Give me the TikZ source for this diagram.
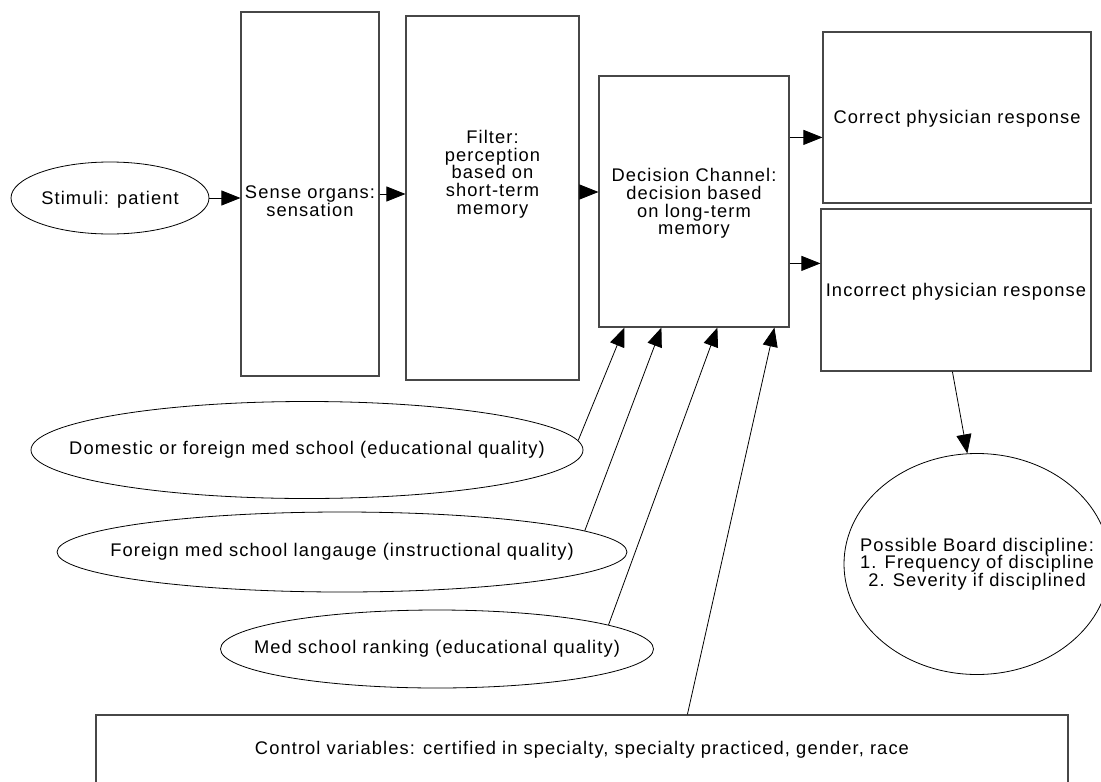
\documentclass[tikz,border=0pt]{standalone}
\usepackage{fontspec}
\setmainfont{Liberation Sans}[LetterSpace=6]
\usetikzlibrary{arrows.meta,shapes.geometric,calc}
\begin{document}
\begin{tikzpicture}[x=1pt,y=-1pt,
  box/.style={draw=black!72, line width=1.2pt, rectangle, inner sep=0pt},
  oval/.style={draw, ellipse, line width=0.8pt, inner sep=0pt},
  txt/.style={align=center, font=\fontsize{18.3}{17.7}\selectfont, inner sep=0pt, text=black},
  arr/.style={line width=0.8pt, -{Triangle[length=19pt,width=15pt]}},
]
\useasboundingbox (0,0) rectangle (1101,782);

% boxes
\node[box, minimum width=138pt, minimum height=364pt] (sense) at (310,194) {};
\node[box, minimum width=173pt, minimum height=364pt] (filter) at (492.5,198) {};
\node[box, minimum width=190pt, minimum height=251pt, label={[txt,yshift=-2pt]center:Decision Channel:\\decision based\\on long-term\\memory}] (dec) at (694,201.5) {};
\node[box, minimum width=268pt, minimum height=171pt, label={[txt,yshift=-1pt]center:Correct physician response}] (correct) at (957,117.5) {};
\node[box, minimum width=270pt, minimum height=162pt, label={[txt,yshift=-2pt]center:Incorrect physician response}] (incorrect) at (956,290) {};
\node[box, minimum width=972pt, minimum height=70pt, label={[txt]center:Control variables: certified in specialty, specialty practiced, gender, race}] (ctrl) at (582,750) {};

\node[txt] (sensetxt) at (310,201.5) {Sense organs:\\sensation};
\node[txt] (filtertxt) at (492.5,174) {Filter:\\perception\\based on\\short-term\\memory};

% ellipses
\node[oval, minimum width=198pt, minimum height=72pt, label={[txt,yshift=-2pt]center:Stimuli: patient}] (stim) at (110,198) {};
\node[oval, minimum width=552pt, minimum height=97pt, label={[txt]center:Domestic or foreign med school (educational quality)}] (dom) at (307,450) {};
\node[oval, minimum width=570pt, minimum height=80pt, label={[txt]center:Foreign med school langauge (instructional quality)}] (for) at (342,552) {};
\node[oval, minimum width=433pt, minimum height=78pt, label={[txt]center:Med school ranking (educational quality)}] (med) at (437,649) {};
\node[oval, minimum width=266pt, minimum height=221pt, label={[txt]center:Possible Board discipline:\\1. Frequency of discipline\\2. Severity if disciplined}] (circ) at (977,564) {};

% connectors
\draw[arr] (stim.east) -- (stim.east -| sense.west);
\draw[arr] (sense.east) -- (sense.east -| filter.west);
\draw[arr] ($(filter.east)+(0,-6)$) coordinate (f1) -- (f1 -| dec.west);
\draw[arr] ($(dec.north east)+(0,62)$) coordinate (d1) -- (d1 -| correct.west);
\draw[arr] ($(dec.north east)+(0,188)$) coordinate (d2) -- (d2 -| incorrect.west);
\draw[arr] (dom.2.8) -- ($(dec.south west)+(26,0)$);
\draw[arr] (for.5.1) -- ($(dec.south west)+(63,0)$);
\draw[arr] (med.8.8) -- ($(dec.south west)+(119,0)$);
\draw[arr] ($(ctrl.north west)+(592,0)$) -- ($(dec.south west)+(176,0)$);
\draw[arr] ($(incorrect.south west)+(132,0)$) -- (circ.95.7);
\end{tikzpicture}
\end{document}
